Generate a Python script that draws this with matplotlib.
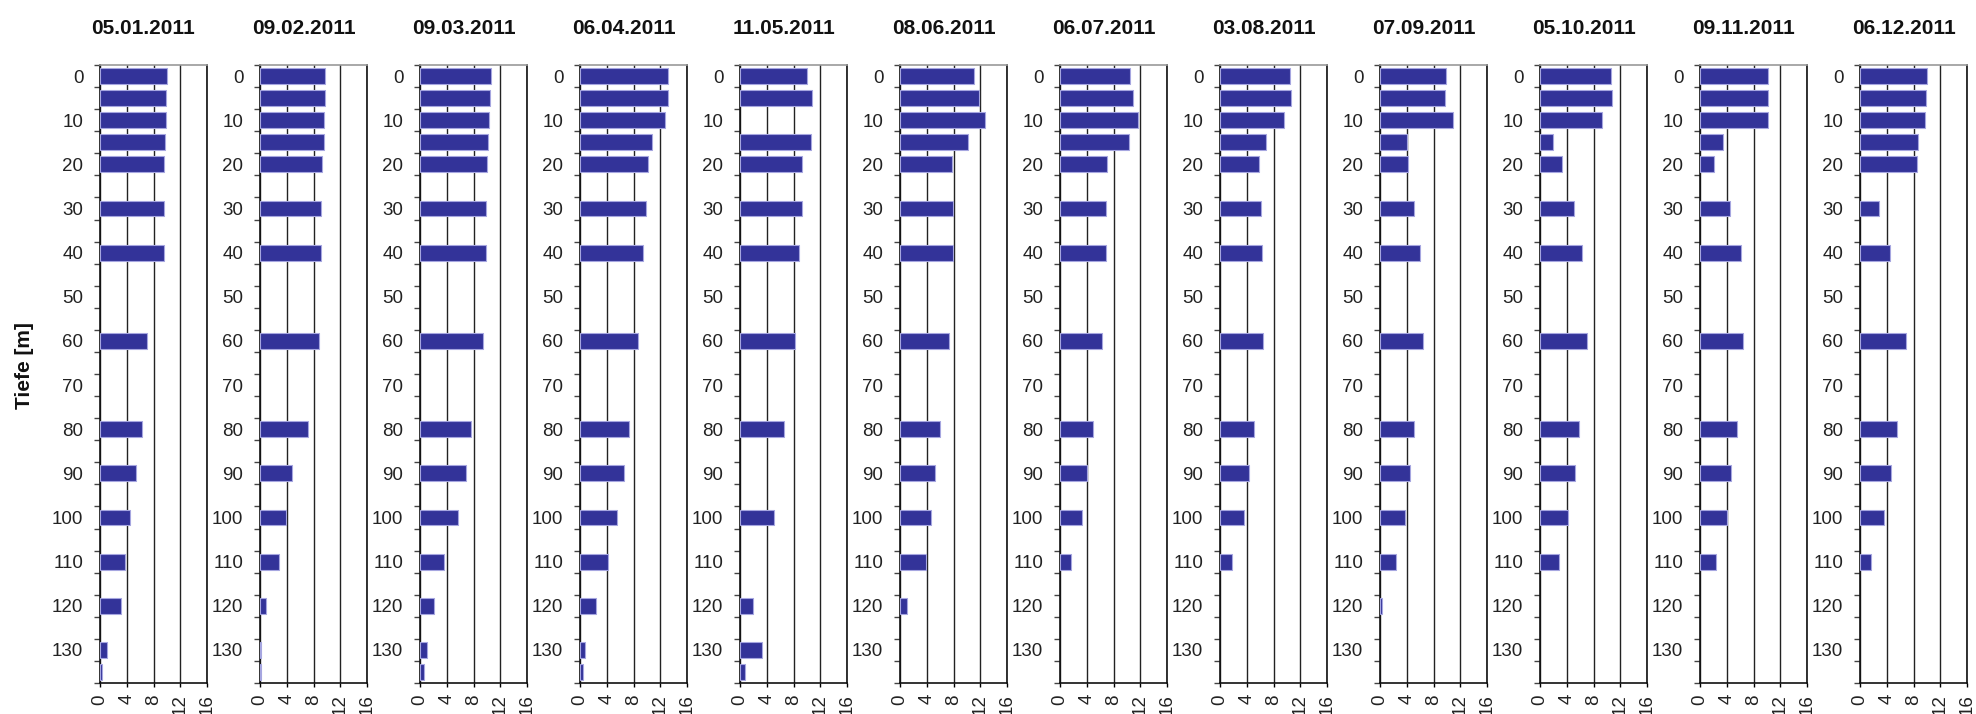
import numpy as np
import matplotlib
matplotlib.use("Agg")
from matplotlib import pyplot as plt

plt.rcParams['font.family'] = ['Liberation Sans', 'DejaVu Sans']

nan = np.nan
depths = [0, 5, 10, 15, 20, 30, 40, 60, 80, 90, 100, 110, 120, 130, 135]
dates = ["05.01.2011", "09.02.2011", "09.03.2011", "06.04.2011", "11.05.2011", "08.06.2011",
         "06.07.2011", "03.08.2011", "07.09.2011", "05.10.2011", "09.11.2011", "06.12.2011"]

# values per sampling date, one per depth (nan = no bar)
v_0501 = [10.05, 9.9, 9.85, 9.75, 9.6, 9.6, 9.55, 7.05, 6.3, 5.4, 4.5, 3.8, 3.1, 1.1, 0.35]
v_0902 = [9.75, 9.65, 9.5, 9.5, 9.3, 9.15, 9.05, 8.8, 7.25, 4.8, 3.85, 2.9, 0.9, 0.15, 0.15]
v_0903 = [10.6, 10.5, 10.35, 10.15, 10.0, 9.85, 9.8, 9.4, 7.65, 6.9, 5.7, 3.55, 2.15, 1.05, 0.6]
v_0604 = [13.1, 13.2, 12.75, 10.75, 10.1, 9.8, 9.35, 8.65, 7.35, 6.6, 5.5, 4.25, 2.45, 0.7, 0.4]
v_1105 = [10.05, 10.75, nan, 10.65, 9.2, 9.2, 8.75, 8.25, 6.55, nan, 5.05, nan, 1.95, 3.3, 0.8]
v_0806 = [11.1, 11.8, 12.75, 10.1, 7.8, 7.95, 7.95, 7.3, 5.95, 5.3, 4.6, 3.85, 1.05, nan, nan]
v_0607 = [10.45, 10.9, 11.6, 10.35, 7.1, 6.85, 6.85, 6.25, 4.9, 4.05, 3.25, 1.65, nan, nan, nan]
v_0308 = [10.4, 10.55, 9.5, 6.9, 5.85, 6.1, 6.3, 6.45, 5.1, 4.35, 3.55, 1.75, nan, nan, nan]
v_0709 = [9.8, 9.7, 10.9, 4.1, 4.2, 5.1, 5.95, 6.4, 5.15, 4.55, 3.7, 2.4, 0.25, nan, nan]
v_0510 = [10.55, 10.75, 9.3, 1.95, 3.3, 5.15, 6.25, 7.0, 5.85, 5.3, 4.25, 2.8, nan, nan, nan]
v_0911 = [10.15, 10.1, 10.1, 3.4, 2.1, 4.55, 6.1, 6.45, 5.6, 4.7, 4.05, 2.35, nan, nan, nan]
v_0612 = [9.95, 9.85, 9.65, 8.6, 8.45, 2.8, 4.45, 6.85, 5.5, 4.65, 3.55, 1.7, nan, nan, nan]

series = [v_0501, v_0902, v_0903, v_0604, v_1105, v_0806,
          v_0607, v_0308, v_0709, v_0510, v_0911, v_0612]

W, H = 1976, 714
fig = plt.figure(figsize=(W / 100, H / 100), dpi=100)

for k, (date, vals) in enumerate(zip(dates, series)):
    x0 = 100 + 160 * k
    ax = fig.add_axes([x0 / W, 1 - 683 / H, 107 / W, 618 / H])
    d = np.array(depths, dtype=float)
    v = np.array(vals, dtype=float)
    ok = ~np.isnan(v)
    ax.barh(d[ok], v[ok], height=3.6, color='#333399', edgecolor='#a6a6e0',
            linewidth=0.8, zorder=3)
    ax.set_xlim(0, 16)
    ax.set_ylim(137.5, -2.5)
    ax.set_xticks([0, 4, 8, 12, 16])
    ax.set_xticklabels(['0', '4', '8', '12', '16'], rotation=90)
    ax.set_yticks(np.arange(0, 131, 10))
    ax.set_yticks(np.arange(-2.5, 138, 5), minor=True)
    ax.tick_params(axis='y', which='major', length=0, pad=12, labelsize=13.5, labelcolor='#222222')
    ax.tick_params(axis='y', which='minor', length=4, width=1, color='#444444')
    ax.tick_params(axis='x', length=3, width=1, pad=5, labelsize=13.5, labelcolor='#222222')
    ax.grid(axis='x', color='#222222', linewidth=1, zorder=0)
    ax.set_axisbelow(True)
    for s in ['left', 'right', 'bottom']:
        ax.spines[s].set_color('#111111')
        ax.spines[s].set_linewidth(1.2)
    ax.spines['top'].set_color('#999999')
    ax.spines['top'].set_linewidth(1.2)
    fig.text((x0 + 43.5) / W, 1 - 28 / H, date, ha='center', va='center',
             fontsize=15, fontweight='bold', color='#111111')

fig.text(24 / W, 1 - 366 / H, "Tiefe [m]", rotation=90, ha='center', va='center',
         fontsize=15, fontweight='bold', color='#111111')

plt.savefig('out.png', dpi=100)
